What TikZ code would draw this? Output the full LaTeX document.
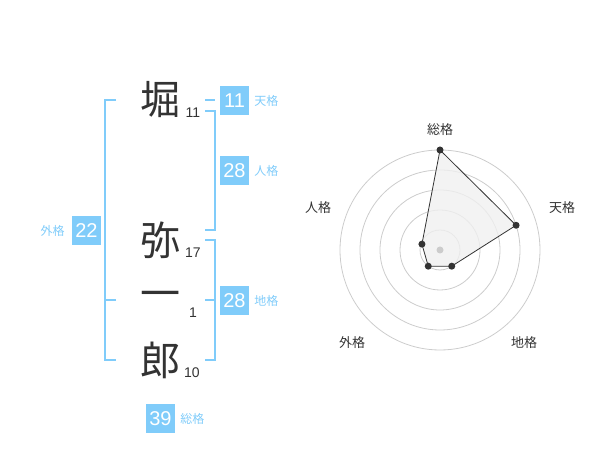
\documentclass[tikz,border=0pt]{standalone}
\usepackage{fontspec}
\setmainfont{Liberation Sans}
\newfontfamily\jp{Noto Sans CJK JP}
\usetikzlibrary{positioning}
\definecolor{kaku}{RGB}{128,204,250}
\definecolor{ink}{RGB}{51,51,51}

\begin{document}
\begin{tikzpicture}[x=1pt,y=1pt]
\tikzstyle{every node}=[inner sep=0pt]
\tikzstyle{kanji}=[font=\jp\fontsize{40}{40}\selectfont, text=ink]
\tikzstyle{strokes}=[font=\fontsize{14}{14}\selectfont, text=ink]
\tikzstyle{kbox}=[fill=kaku, text=white, minimum size=29pt, font=\fontsize{20}{20}\selectfont]
\tikzstyle{klabel}=[text=kaku, font=\jp\fontsize{12}{12}\selectfont]
\tikzstyle{brk}=[draw=kaku, line width=2pt]
\tikzstyle{ring}=[draw=black!20, line width=0.8pt]
\tikzstyle{dot}=[circle, fill=ink, minimum size=7pt]
\tikzstyle{axis}=[text=ink, font=\jp\fontsize{13}{13}\selectfont]
\useasboundingbox (0,0) rectangle (600,470);

% name
\node (c1) [kanji] at (160,370) {堀};
\node (c2) [kanji] at (160,230) {弥};
\node (c3) [kanji] at (160,170) {一};
\node (c4) [kanji] at (160,110) {郎};
\node (s1) [strokes] at (193,357) {11};
\node (s2) [strokes] at (193,217) {17};
\node (s3) [strokes] at (193,157) {1};
\node (s4) [strokes] at (192,97) {10};

% brackets
\coordinate (gt) at (116,370);
\coordinate (gm) at (116,170);
\coordinate (gb) at (116,110);
\draw[brk] (gt) -- ++(-11,0) |- (gb);
\draw[brk] (gm) -- ++(-11,0);
\coordinate (tt) at (205,370);
\draw[brk] (tt) -- ++(10,0);
\coordinate (jt) at (205,359);
\coordinate (jb) at (205,240);
\draw[brk] (jt) -- ++(10,0) |- (jb);
\coordinate (dt) at (205,230);
\coordinate (dm) at (205,170);
\coordinate (db) at (205,110);
\draw[brk] (dt) -- ++(10,0) |- (db);
\draw[brk] (dm) -- ++(10,0);

% boxes
\node (b1) [kbox] at (234.5,369.5) {11};
\node (l1) [klabel, right=5pt of b1] {天格};
\node (b2) [kbox] at (234.5,299.5) {28};
\node (l2) [klabel, right=5pt of b2] {人格};
\node (b3) [kbox] at (234.5,169.5) {28};
\node (l3) [klabel, right=5pt of b3] {地格};
\node (b4) [kbox] at (86.5,239.5) {22};
\node (l4) [klabel, left=7pt of b4] {外格};
\node (b5) [kbox] at (160.5,51) {39};
\node (l5) [klabel, right=5pt of b5] {総格};

% radar
\begin{scope}[shift={(440,220)}]
\foreach \r in {20,40,60,80,100}
  \draw[ring] (0,0) circle (\r);
\coordinate (p1) at (90:100);
\coordinate (p2) at (18:80);
\coordinate (p3) at (-54:20);
\coordinate (p4) at (234:20);
\coordinate (p5) at (162:19);
\fill[black!6, opacity=.8] (p1) -- (p2) -- (p3) -- (p4) -- (p5) -- cycle;
\node (o) [circle, fill=black!20, minimum size=7pt] at (0,0) {};
\draw[ink, line width=0.8pt] (p1) -- (p2) -- (p3) -- (p4) -- (p5) -- cycle;
\foreach \p in {p1,p2,p3,p4,p5}
  \node (d\p) [dot] at (\p) {};
\node (a1) [axis] at (0,120) {総格};
\node (a2) [axis] at (122,42) {天格};
\node (a3) [axis] at (84,-92.5) {地格};
\node (a4) [axis] at (-88,-92.5) {外格};
\node (a5) [axis] at (-122,42) {人格};
\end{scope}
\end{tikzpicture}
\end{document}
